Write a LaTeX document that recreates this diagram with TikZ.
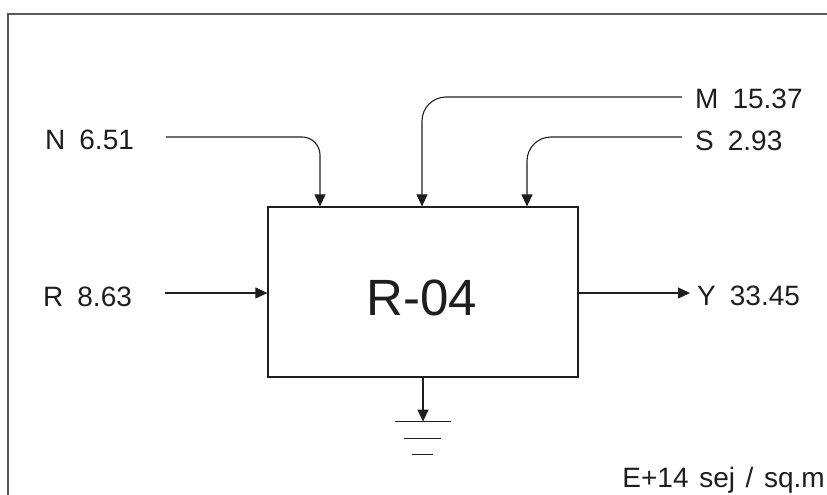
\documentclass[tikz,border=0pt]{standalone}
\usepackage{fontspec}
\setmainfont{Liberation Sans}
\usetikzlibrary{positioning, calc, arrows.meta}
\definecolor{Ink}{HTML}{1E1E1E}
\definecolor{Edge}{HTML}{5A5A5A}
\newcommand{\lblfont}{\fontsize{28}{32}\selectfont}
\newcommand{\bigfont}{\fontsize{51}{58}\selectfont}
\tikzset{
    block/.style={rectangle, draw=Ink, line width=1.2pt, minimum width=310pt, minimum height=170pt, inner sep=0pt},
    lbl/.style={anchor=base west, inner sep=0pt, text=Ink, font=\lblfont},
    flow/.style={-{Triangle[length=12pt, width=11pt]}, line width=1.1pt, color=Ink},
    earth/.style={line width=1.3pt, color=Ink},
    frameline/.style={line width=1.3pt, color=Edge},
}

\begin{document}
\begin{tikzpicture}[x=1pt, y=-1pt]
                \useasboundingbox (0,0) rectangle (827,495);
                % Cornice (solo lati alto e sinistro visibili)
                \draw[frameline] (8,495) -- (8,14) -- (827,14);

                % Blocco centrale
                \node[block] (B) at (423,292) {};
                \node[font=\bigfont, text=Ink, inner sep=0pt] (T) at ([xshift=-1, yshift=-6]B.center) {R-04};

                % Etichette degli ingressi e dell'uscita
                \node[lbl] (N) at (45,149) {N\enspace 6.51};
                \node[lbl] (M) at (695,108) {M\enspace 15.37};
                \node[lbl] (S) at (695,150) {S\enspace 2.93};
                \node[lbl] (R) at (43,306) {R\enspace 8.63};
                \node[lbl] (Y) at (697,305) {Y\enspace 33.45};
                \node[lbl, anchor=base east] (U) at (825,487) {E+14\hspace{.38em}sej\hspace{.38em}/\hspace{.38em}sq.m};

                % Punti di partenza delle frecce
                \coordinate (nIn) at (166,137);
                \coordinate (mIn) at (682,97);
                \coordinate (sIn) at (682,137);
                \coordinate (rIn) at (165,293);
                \coordinate (yOut) at (690,293);

                % Ingressi dall'alto (con curva)
                \draw[flow, rounded corners=18pt] (nIn) -| ([xshift=-103]B.north);
                \draw[flow, rounded corners=24pt] (mIn) -| ([xshift=-1]B.north);
                \draw[flow, rounded corners=24pt] (sIn) -| ([xshift=104]B.north);

                % Ingresso laterale e uscita
                \draw[flow] (rIn) -- (rIn -| B.west);
                \draw[flow] (yOut -| B.east) -- (yOut);

                % Dispersione verso terra
                \draw[flow] (B.south) -- ++(0,44) coordinate (G);
                \draw[earth] ([xshift=-28]G) -- ([xshift=28]G);
                \draw[earth] ([xshift=-19, yshift=-17]G) -- ([xshift=18, yshift=-17]G);
                \draw[earth] ([xshift=-11, yshift=-33]G) -- ([xshift=10, yshift=-33]G);

            \end{tikzpicture}
\end{document}
